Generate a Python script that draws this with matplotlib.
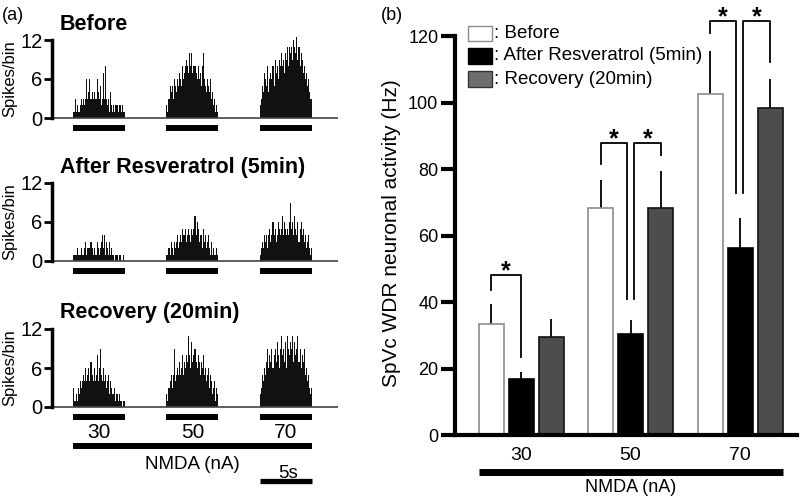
import numpy as np
import matplotlib
matplotlib.use("Agg")
from matplotlib import pyplot as plt
from matplotlib.patches import Rectangle

plt.rcParams['font.family'] = ['Liberation Sans', 'DejaVu Sans']

# ---- panel (a): peri-stimulus histograms, 0.1 s bins, 50 bins per NMDA pulse
bin_w = 0.1
pulse_start = [2.0, 11.0, 20.0]   # s
pulse_len = 5.0
doses = ['30', '50', '70']

before_30 = [1,1,3,1,2,1,1,2,3,2, 3,2,3,6,3,4,6,3,4,3, 4,3,3,6,4,3,5,2,3,7,
             3,8,3,2,3,1,4,2,1,2, 1,2,2,1,2,2,1,2,1,1]
before_50 = [2,1,3,5,4,5,3,6,5,4, 6,5,7,6,5,8,6,7,8,9, 8,7,10,8,10,7,8,8,7,6,
             8,6,7,5,8,10,6,5,4,6, 5,4,6,3,4,2,3,1,2,1]
before_70 = [2,3,5,4,7,6,5,8,4,6, 7,6,8,5,9,7,8,6,9,8, 10,8,9,7,10,9,11,8,11,10,
             11,9,12,11,10,13,9,11,8,10, 9,7,8,6,7,5,6,4,3,3]
after_30 = [1,1,1,1,2,1,1,1,2,1, 1,2,3,1,2,2,2,3,2,1, 2,1,1,3,2,1,2,3,4,2,
            4,1,3,2,1,3,1,2,1,1, 0,1,1,0,1,1,0,0,1,0]
after_50 = [1,1,2,1,3,2,1,3,2,3, 4,2,3,4,3,5,4,4,5,3, 4,5,4,3,5,4,5,7,4,6,
            5,3,4,4,2,5,3,4,2,3, 4,2,1,3,1,2,1,1,2,1]
after_70 = [1,2,3,2,4,3,4,2,4,5, 3,4,6,4,5,3,4,6,5,4, 5,7,4,6,5,4,5,4,6,9,
            5,6,4,7,5,4,6,3,5,6, 4,5,3,4,2,3,4,2,1,2]
recov_30 = [3,1,1,2,1,3,2,4,3,4, 5,4,6,4,5,6,4,7,5,4, 6,4,5,8,4,6,9,5,4,6,
            4,5,3,4,5,2,4,3,2,2, 3,1,2,1,2,1,1,0,1,1]
recov_50 = [2,1,3,4,5,3,5,9,4,5, 6,5,7,5,6,8,5,7,6,8, 7,11,8,6,10,7,8,9,7,6,
            8,7,5,7,6,8,5,6,4,5, 6,3,5,4,2,3,4,1,3,2]
recov_70 = [2,3,5,4,6,5,7,9,6,8, 7,9,6,8,9,7,10,8,6,9, 11,8,9,7,10,6,11,9,8,10,
            9,11,7,10,8,9,11,7,9,6, 8,7,9,5,6,4,5,3,2,3]

hist_titles = ['Before', 'After Resveratrol (5min)', 'Recovery (20min)']
hist_data = [[before_30, before_50, before_70],
             [after_30, after_50, after_70],
             [recov_30, recov_50, recov_70]]

# ---- panel (b): mean firing (Hz) + SEM
groups = ['30', '50', '70']
before_hz = [33.5, 68.2, 102.7]
before_err = [5.9, 8.5, 13.0]
after_hz = [16.8, 30.3, 56.2]
after_err = [2.2, 4.3, 9.0]
recov_hz = [29.5, 68.2, 98.3]
recov_err = [5.5, 11.2, 8.7]
legend_labels = [': Before', ': After Resveratrol (5min)', ': Recovery (20min)']

# significance brackets: group, x offsets of the legs, top, leg ends
br_group = [0, 1, 1, 2, 2]
br_x0 = [-0.274, -0.274, 0.033, -0.274, 0.03]
br_x1 = [0.0, -0.03, 0.28, -0.033, 0.27]
br_top = [48.0, 87.8, 87.8, 124.5, 124.5]
br_y0 = [43.6, 81.5, 41.0, 120.9, 72.8]
br_y1 = [23.5, 41.0, 84.2, 72.8, 112.2]


def fx(x):
    return x / 800.0


def fy(y):
    return 1 - y / 500.0


fig = plt.figure(figsize=(8, 5), dpi=100)

# panel (a)
bottoms = [144, 287, 433]
for k in range(3):
    ax = fig.add_axes([fx(52), fy(bottoms[k]), fx(338 - 52), 107.25 / 500])
    for j in range(3):
        t = pulse_start[j] + np.arange(len(hist_data[k][j])) * bin_w
        ax.bar(t, hist_data[k][j], width=bin_w, align='edge', color='#111111', linewidth=0)
        ax.plot([pulse_start[j], pulse_start[j] + pulse_len], [-1.55, -1.55],
                color='black', lw=4.3, solid_capstyle='butt', clip_on=False)
    ax.plot([0, 27.5], [0, 0], color='#444444', lw=1.2)
    ax.set_xlim(0, 27.5)
    ax.set_ylim(-4, 12.5)
    for s in ['top', 'right', 'bottom']:
        ax.spines[s].set_visible(False)
    ax.spines['left'].set_linewidth(2.5)
    ax.spines['left'].set_bounds(0, 12)
    ax.set_yticks([0, 6, 12])
    ax.tick_params(axis='y', length=6, width=2, labelsize=14.5, pad=1)
    ax.set_xticks([])
    ax.set_ylabel('Spikes/bin', fontsize=12)
    ax.yaxis.set_label_coords(-0.12, 0.606)
    ax.text(fx(60), fy([30, 173, 318][k]), hist_titles[k], transform=fig.transFigure,
            fontsize=15.5, fontweight='bold', va='baseline', ha='left')
    if k == 2:
        for j in range(3):
            ax.text(pulse_start[j] + pulse_len / 2, -4.0, doses[j], fontsize=15,
                    ha='center', va='center', clip_on=False)
        ax.plot([2.0, 25.0], [-6.0, -6.0], color='black', lw=4.3,
                solid_capstyle='butt', clip_on=False)
        ax.text(13.5, -8.9, 'NMDA (nA)', fontsize=13.5, ha='center', va='center')
        ax.text(22.7, -10.2, '5s', fontsize=13.5, ha='center', va='center')
        ax.plot([20.0, 25.0], [-11.4, -11.4], color='black', lw=3.8,
                solid_capstyle='butt', clip_on=False)

fig.text(fx(2), fy(15), '(a)', fontsize=13, va='center', ha='left')
fig.text(fx(381), fy(15), '(b)', fontsize=13, va='center', ha='left')

# panel (b)
axb = fig.add_axes([fx(455), fy(435), fx(797 - 455), 432 / 500])
x = np.arange(len(groups))
w = 0.228
off = 0.274
series = [(before_hz, before_err, 'white', '#8c8c8c', -off),
          (after_hz, after_err, 'black', 'black', 0.0),
          (recov_hz, recov_err, '#4d4d4d', '#111111', off)]
for vals, errs, fc, ec, dx in series:
    axb.bar(x + dx, vals, width=w, color=fc, edgecolor=ec, linewidth=1.2, zorder=2)
    axb.vlines(x + dx, vals, np.array(vals) + np.array(errs), color='black', lw=1.3, zorder=1)

for i in range(len(br_group)):
    g = br_group[i]
    xs = [g + br_x0[i], g + br_x0[i], g + br_x1[i], g + br_x1[i]]
    ys = [br_y0[i], br_top[i], br_top[i], br_y1[i]]
    axb.plot(xs, ys, color='black', lw=1.3, clip_on=False)
    axb.text(g + (br_x0[i] + br_x1[i]) / 2, br_top[i] - 0.8, '*', fontsize=18,
             fontweight='bold', ha='center', va='baseline', clip_on=False)

axb.set_xlim(-0.603, 2.52)
axb.set_ylim(0, 130)
for s in ['top', 'right']:
    axb.spines[s].set_visible(False)
axb.spines['left'].set_linewidth(3)
axb.spines['left'].set_bounds(0, 120)
axb.spines['bottom'].set_linewidth(3)
axb.set_yticks(np.arange(0, 121, 20))
axb.tick_params(axis='y', length=10, width=3, labelsize=13, pad=2)
axb.set_xticks(x, groups)
axb.tick_params(axis='x', length=0, labelsize=14, pad=9)
axb.set_ylabel('SpVc WDR neuronal activity (Hz)', fontsize=15)
axb.yaxis.set_label_coords(-0.158, 0.4676)
axb.plot([-off - w / 2, 2 + off + w / 2], [-11.1, -11.1], color='black', lw=5,
         solid_capstyle='butt', clip_on=False)
axb.text(1.0, -15.9, 'NMDA (nA)', fontsize=13, ha='center', va='center')

# legend boxes
leg_fc = ['white', 'black', '#6e6e6e']
leg_ec = ['#8c8c8c', 'black', '#333333']
leg_y = [33.5, 56, 79]
for i in range(3):
    fig.add_artist(Rectangle((fx(468), fy(leg_y[i] + 7.5)), fx(24), 15 / 500,
                             facecolor=leg_fc[i], edgecolor=leg_ec[i], lw=1,
                             transform=fig.transFigure))
    fig.text(fx(494), fy(leg_y[i]), legend_labels[i], fontsize=13.5, va='center', ha='left')

fig.savefig('out.png', dpi=100)
